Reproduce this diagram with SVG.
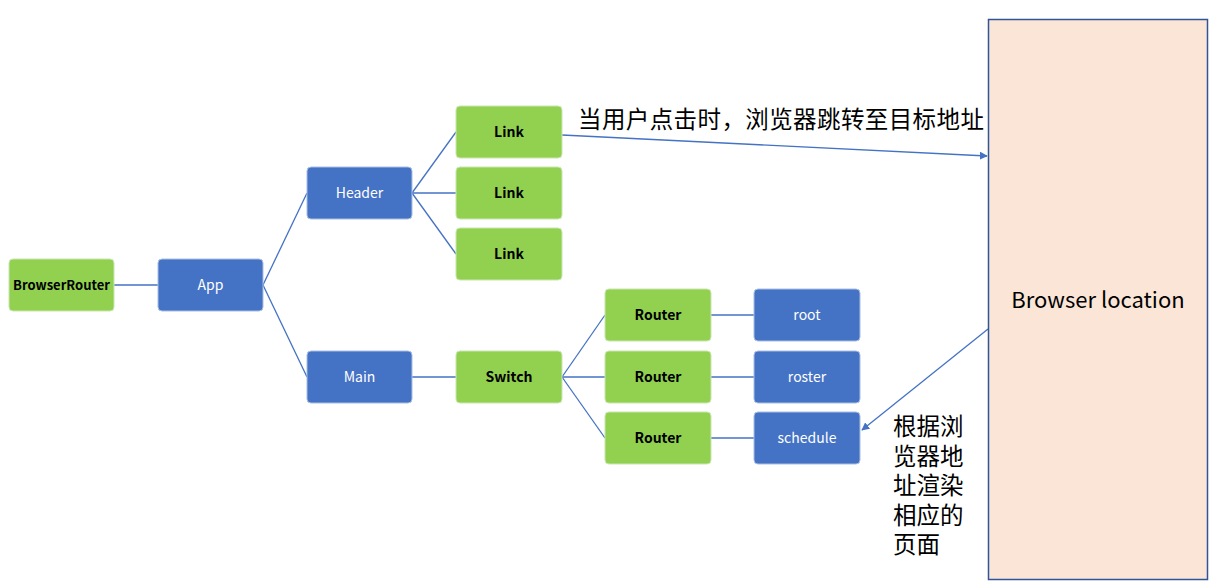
<svg xmlns="http://www.w3.org/2000/svg" width="1209" height="581" viewBox="0 0 1209 581">
<defs>
<style>
.g{fill:#92D050;stroke:#C9E6B0;stroke-width:1}
.b{fill:#4472C4;stroke:#A9BEE3;stroke-width:1}
.tg{font-family:"Noto Sans CJK SC","Noto Sans",sans-serif;font-size:14px;font-weight:bold;fill:#000;text-anchor:middle}
.tb{font-family:"Noto Sans CJK SC","Noto Sans",sans-serif;font-size:14px;fill:#fff;text-anchor:middle}
.c{stroke:#4472C4;stroke-width:1.3;fill:none}
.cn{font-family:"Noto Sans CJK SC",sans-serif;font-size:23.5px;fill:#000}
</style>
<marker id="ah" viewBox="0 0 10 10" refX="9" refY="5" markerWidth="8" markerHeight="8" markerUnits="userSpaceOnUse" orient="auto">
<path d="M0,0 L10,5 L0,10 z" fill="#4472C4"/>
</marker>
</defs>
<rect width="1209" height="581" fill="#fff"/>
<g id="connectors">
<line class="c" x1="114" y1="285" x2="158" y2="285"/>
<line class="c" x1="263" y1="285" x2="307" y2="193"/>
<line class="c" x1="263" y1="285" x2="307" y2="377"/>
<line class="c" x1="412" y1="193" x2="456" y2="132"/>
<line class="c" x1="412" y1="193" x2="456" y2="193"/>
<line class="c" x1="412" y1="193" x2="456" y2="254"/>
<line class="c" x1="412" y1="377" x2="456" y2="377"/>
<line class="c" x1="562" y1="377" x2="605" y2="315"/>
<line class="c" x1="562" y1="377" x2="605" y2="377"/>
<line class="c" x1="562" y1="377" x2="605" y2="438"/>
<line class="c" x1="711" y1="315" x2="754" y2="315"/>
<line class="c" x1="711" y1="377" x2="754" y2="377"/>
<line class="c" x1="711" y1="438" x2="754" y2="438"/>
<line class="c" x1="562" y1="135" x2="987" y2="156" marker-end="url(#ah)"/>
<line class="c" x1="988" y1="329" x2="862" y2="430" marker-end="url(#ah)"/>
</g>
<g id="browserlocation">
<rect x="988.5" y="19.5" width="219" height="560" fill="#FBE5D6" stroke="#2F5597" stroke-width="1.5"/>
<text x="1098" y="308" font-family="'Noto Sans CJK SC','Noto Sans',sans-serif" font-size="22" text-anchor="middle" fill="#000">Browser location</text>
</g>
<g id="browserrouter"><rect class="g" x="9" y="259" width="105" height="52" rx="4"/><text class="tg" x="61.5" y="289.5" style="font-size:13px">BrowserRouter</text></g>
<g id="app"><rect class="b" x="158" y="259" width="105" height="52" rx="4"/><text class="tb" x="210.5" y="289.5">App</text></g>
<g id="header"><rect class="b" x="307" y="167" width="105" height="52" rx="4"/><text class="tb" x="359.5" y="197.5">Header</text></g>
<g id="main"><rect class="b" x="307" y="351" width="105" height="52" rx="4"/><text class="tb" x="359.5" y="381.5">Main</text></g>
<g id="link1"><rect class="g" x="456" y="106" width="106" height="52" rx="4"/><text class="tg" x="509" y="136.5">Link</text></g>
<g id="link2"><rect class="g" x="456" y="167" width="106" height="52" rx="4"/><text class="tg" x="509" y="197.5">Link</text></g>
<g id="link3"><rect class="g" x="456" y="228" width="106" height="52" rx="4"/><text class="tg" x="509" y="258.5">Link</text></g>
<g id="switch"><rect class="g" x="456" y="351" width="106" height="52" rx="4"/><text class="tg" x="509" y="381.5">Switch</text></g>
<g id="router1"><rect class="g" x="605" y="289" width="106" height="52" rx="4"/><text class="tg" x="658" y="319.5">Router</text></g>
<g id="router2"><rect class="g" x="605" y="351" width="106" height="52" rx="4"/><text class="tg" x="658" y="381.5">Router</text></g>
<g id="router3"><rect class="g" x="605" y="412" width="106" height="52" rx="4"/><text class="tg" x="658" y="442.5">Router</text></g>
<g id="root"><rect class="b" x="754" y="289" width="106" height="52" rx="4"/><text class="tb" x="807" y="319.5">root</text></g>
<g id="roster"><rect class="b" x="754" y="351" width="106" height="52" rx="4"/><text class="tb" x="807" y="381.5">roster</text></g>
<g id="schedule"><rect class="b" x="754" y="412" width="106" height="52" rx="4"/><text class="tb" x="807" y="442.5">schedule</text></g>
<g id="label-click"><text class="cn" x="578" y="128" letter-spacing="0.4">当用户点击时，浏览器跳转至目标地址</text></g>
<g id="label-render">
<text class="cn"><tspan x="893" y="435">根据浏</tspan><tspan x="893" y="465">览器地</tspan><tspan x="893" y="494">址渲染</tspan><tspan x="893" y="524">相应的</tspan><tspan x="893" y="553">页面</tspan></text>
</g>
</svg>
